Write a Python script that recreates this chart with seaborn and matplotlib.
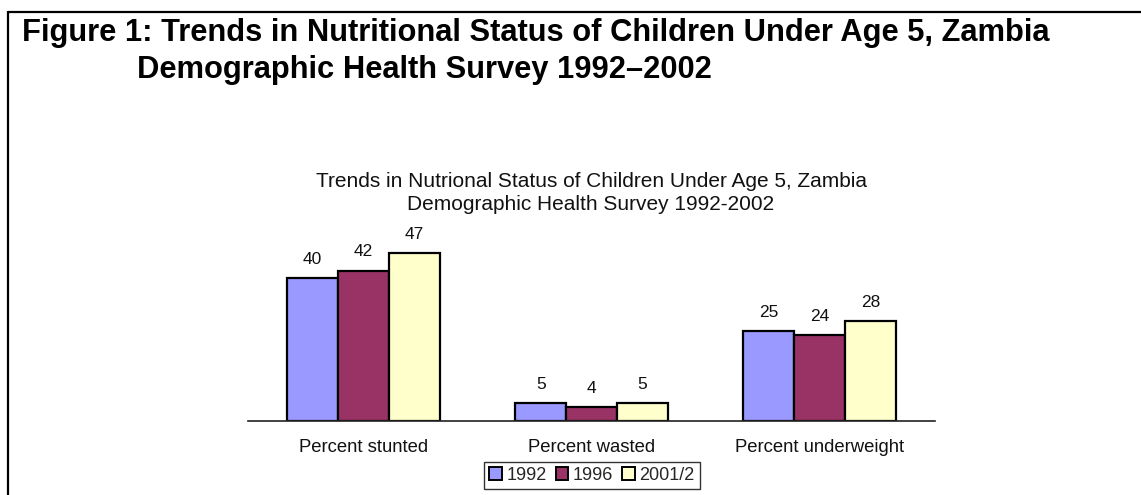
import pandas as pd
import matplotlib.pyplot as plt
import seaborn as sns
from matplotlib.lines import Line2D
from matplotlib.patches import Patch

# data
categories = ["Percent stunted", "Percent wasted", "Percent underweight"]
years = ["1992", "1996", "2001/2"]
values_1992 = [40, 5, 25]
values_1996 = [42, 4, 24]
values_2001 = [47, 5, 28]
colors = ["#9999FF", "#993366", "#FFFFCC"]

main_title_1 = "Figure 1: Trends in Nutritional Status of Children Under Age 5, Zambia"
main_title_2 = "Demographic Health Survey 1992\u20132002"
chart_title = ("Trends in Nutrional Status of Children Under Age 5, Zambia\n"
               "Demographic Health Survey 1992-2002")

rows = []
for year, vals in zip(years, [values_1992, values_1996, values_2001]):
    for cat, v in zip(categories, vals):
        rows.append({"category": cat, "year": year, "value": v})
df = pd.DataFrame(rows)

sns.set_theme(style="white")
plt.rcParams["font.family"] = ["Liberation Sans", "DejaVu Sans"]

W, H = 1141, 495
fig = plt.figure(figsize=(W / 100, H / 100), dpi=100)
fig.patch.set_facecolor("white")

# axes placed in pixel terms
left, right, base, top = 248, 935, 421, 224
ax = fig.add_axes([left / W, (H - base) / H, (right - left) / W, (base - top) / H])

sns.barplot(data=df, x="category", y="value", hue="year", palette=colors,
            saturation=1, width=0.67, edgecolor="black", linewidth=1.6,
            ax=ax, legend=False)

for cont in ax.containers:
    ax.bar_label(cont, fmt="%d", padding=8, fontsize=12.5, color="#111111")

ax.set_ylim(0, 55)
ax.set_xlim(-0.507, 2.506)
ax.set_xlabel("")
ax.set_ylabel("")
ax.set_yticks([])
ax.tick_params(axis="x", length=0, pad=13, labelsize=13.3, labelcolor="#111111")
for s in ["top", "left", "right"]:
    ax.spines[s].set_visible(False)
ax.spines["bottom"].set_color("#222222")
ax.spines["bottom"].set_linewidth(1.2)
ax.set_facecolor("none")

handles = [Patch(facecolor=c, edgecolor="black", linewidth=1.4) for c in colors]
leg = fig.legend(handles, years, loc="center", bbox_to_anchor=(592 / W, 1 - 475.5 / H),
                 ncol=3, frameon=True, fancybox=False, fontsize=13,
                 handlelength=0.7, handleheight=0.7, handletextpad=0.25,
                 columnspacing=0.5, borderpad=0.3, borderaxespad=0)
leg.get_frame().set_edgecolor("black")
leg.get_frame().set_linewidth(1.0)

# chart title
fig.text(591 / W, 1 - 193 / H, chart_title, ha="center", va="center",
         fontsize=15, color="#111111", linespacing=1.3)

# page heading
fig.text(22 / W, 1 - 33 / H, main_title_1, ha="left", va="center",
         fontsize=22.2, fontweight="bold", color="black")
fig.text(137 / W, 1 - 70 / H, main_title_2, ha="left", va="center",
         fontsize=22.2, fontweight="bold", color="black")

# frame lines (top and left)
fig.add_artist(Line2D([8 / W, 1], [1 - 12 / H, 1 - 12 / H], color="black", linewidth=1.6,
                      transform=fig.transFigure))
fig.add_artist(Line2D([8 / W, 8 / W], [0, 1 - 12 / H], color="black", linewidth=1.6,
                      transform=fig.transFigure))

fig.savefig("out.png", dpi=100)
